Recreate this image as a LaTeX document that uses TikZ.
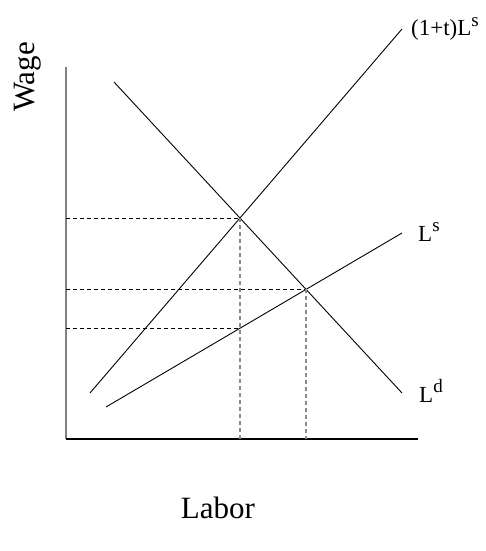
\documentclass[tikz,border=0pt]{standalone}
\usepackage{fontspec}
\setmainfont{Liberation Serif}
\usetikzlibrary{positioning,calc}
\definecolor{axisgray}{HTML}{808080}
\definecolor{guidegray}{HTML}{8A8A8A}
\tikzset{
  curve/.style={draw=black, line width=0.9pt},
  axisline/.style={line width=1.1pt},
  hguide/.style={draw=black, line width=0.9pt, dash pattern=on 4pt off 3pt},
  vguide/.style={draw=guidegray, line width=1.4pt, dash pattern=on 4pt off 3pt},
  curvelabel/.style={anchor=base west, inner sep=0pt, font=\fontsize{23}{23}\selectfont},
  axislabel/.style={inner sep=0pt, font=\fontsize{31}{31}\selectfont}}
\newcommand{\supsc}[1]{\raisebox{0.42em}{\fontsize{19}{19}\selectfont #1}}

\begin{document}
\begin{tikzpicture}[x=1pt, y=-1pt]
  \useasboundingbox (0,0) rectangle (486,551);
  % axes
  \coordinate (origin) at (66,439);
  \coordinate (ytop) at (66,67);
  \coordinate (xend) at (418,439);
  \draw[axisline, draw=axisgray] (origin) -- (ytop);
  \draw[axisline, draw=black] (origin) -- (xend);
  % curve ends
  \coordinate (tsA) at (90,393);
  \coordinate (tsB) at (402,29);
  \coordinate (ldA) at (114,82);
  \coordinate (ldB) at (402,393);
  \coordinate (lsA) at (106,407);
  \coordinate (lsB) at (402,233);
  \draw[curve] (tsA) -- (tsB);
  \draw[curve] (ldA) -- (ldB);
  \draw[curve] (lsA) -- (lsB);
  % equilibria
  \coordinate (eqtax) at (intersection of tsA--tsB and ldA--ldB);
  \coordinate (eqfree) at (intersection of lsA--lsB and ldA--ldB);
  \coordinate (wnet) at (intersection of lsA--lsB and {$(eqtax)+(0,10)$}--{$(eqtax)+(0,20)$});
  \coordinate (wgross) at (origin |- eqtax);
  \coordinate (wfree) at (origin |- eqfree);
  \coordinate (wlow) at (origin |- wnet);
  \coordinate (ltax) at (eqtax |- origin);
  \coordinate (lfree) at (eqfree |- origin);
  \draw[hguide] (wgross) -- (eqtax);
  \draw[hguide] (wfree) -- (eqfree);
  \draw[hguide] (wlow) -- (wnet);
  \draw[vguide] (eqtax) -- (ltax);
  \draw[vguide] (eqfree) -- (lfree);
  % labels
  \node[curvelabel] (tslabel) at (411,36) {(1+t)L\supsc{s}};
  \node[curvelabel] (lslabel) at (418,241) {L\supsc{s}};
  \node[curvelabel] (ldlabel) at (419,402) {L\supsc{d}};
  \node[axislabel, rotate=90] (wagelabel) at (28,77) {Wage};
  \node[axislabel] (laborlabel) at (218,508) {Labor};
\end{tikzpicture}
\end{document}
